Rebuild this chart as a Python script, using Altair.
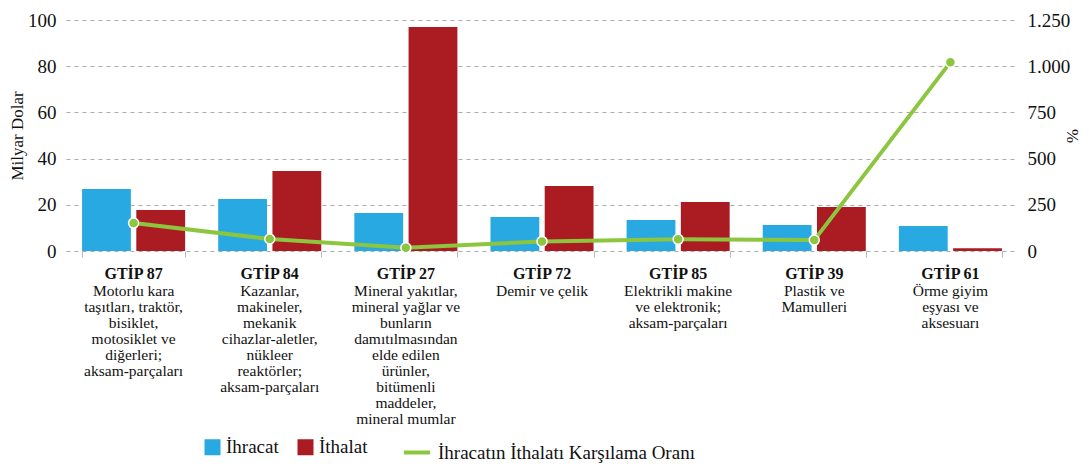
import altair as alt
import pandas as pd

codes = ["GTİP 87", "GTİP 84", "GTİP 27", "GTİP 72", "GTİP 85", "GTİP 39", "GTİP 61"]
descriptions = [
    "Motorlu kara\ntaşıtları, traktör,\nbisiklet,\nmotosiklet ve\ndiğerleri;\naksam-parçaları",
    "Kazanlar,\nmakineler,\nmekanik\ncihazlar-aletler,\nnükleer\nreaktörler;\naksam-parçaları",
    "Mineral yakıtlar,\nmineral yağlar ve\nbunların\ndamıtılmasından\nelde edilen\nürünler,\nbitümenli\nmaddeler,\nmineral mumlar",
    "Demir ve çelik",
    "Elektrikli makine\nve elektronik;\naksam-parçaları",
    "Plastik ve\nMamulleri",
    "Örme giyim\neşyası ve\naksesuarı",
]
exports = [26.8, 22.5, 16.5, 14.7, 13.4, 11.3, 10.8]
imports = [17.8, 34.6, 97.0, 28.1, 21.2, 19.0, 1.2]
ratio = [151, 65, 17, 52, 63, 59, 1022]

series = ["İhracat", "İthalat"]
line_label = "İhracatın İthalatı Karşılama Oranı"
FONT = "Liberation Serif"
INK = "#111111"

bar_rows = []
for c, e, i in zip(codes, exports, imports):
    bar_rows.append({"kod": c, "seri": "İhracat", "deger": e})
    bar_rows.append({"kod": c, "seri": "İthalat", "deger": i})
bars_df = pd.DataFrame(bar_rows)
cat_df = pd.DataFrame({"kod": codes, "aciklama": descriptions, "oran": ratio, "seri": line_label})

x_enc = alt.X("kod:N", sort=codes,
              scale=alt.Scale(paddingInner=0.243, paddingOuter=0.118),
              axis=alt.Axis(title=None, labels=False, domain=False, ticks=True,
                            tickBand="extent", tickColor="#bbbbbb", tickSize=6, grid=False))

bars = alt.Chart(bars_df).mark_bar().encode(
    x=x_enc,
    xOffset=alt.XOffset("seri:N", sort=series, scale=alt.Scale(paddingInner=0.1)),
    y=alt.Y("deger:Q", scale=alt.Scale(domain=[0, 100]),
            axis=alt.Axis(title="Milyar Dolar", values=[0, 20, 40, 60, 80, 100],
                          grid=True, gridDash=[4, 4], gridColor="#aaaaaa", ticks=False,
                          domain=False, labelPadding=10, titlePadding=1.5,
                          labelFont=FONT, titleFont=FONT, labelColor=INK, titleColor=INK,
                          labelFontSize=19, titleFontSize=17, titleFontWeight="normal")),
    color=alt.Color("seri:N", sort=series,
                    scale=alt.Scale(domain=series, range=["#29a9e1", "#ab1b22"]),
                    legend=alt.Legend(title=None, orient="none", legendX=137, legendY=417.5,
                                      direction="horizontal", symbolType="square",
                                      symbolSize=256, symbolStrokeWidth=0, labelFontSize=19,
                                      labelFont=FONT, labelColor=INK,
                                      columnPadding=17, labelOffset=4, padding=0)),
)

y2 = alt.Y("oran:Q", scale=alt.Scale(domain=[0, 1250]),
           axis=alt.Axis(title="%", orient="right", values=[0, 250, 500, 750, 1000, 1250],
                         labelExpr="replace(format(datum.value, ','), ',', '.')",
                         grid=False, domain=False, ticks=False, labelPadding=9,
                         titlePadding=-7,
                         labelFont=FONT, titleFont=FONT, labelColor=INK, titleColor=INK,
                         labelFontSize=19, titleFontSize=17, titleFontWeight="normal"))

line = alt.Chart(cat_df).mark_line(strokeWidth=4).encode(
    x=alt.X("kod:N", sort=codes),
    y=y2,
    stroke=alt.Stroke("seri:N", scale=alt.Scale(domain=[line_label], range=["#8cc63f"]),
                      legend=alt.Legend(title=None, orient="none", legendX=336, legendY=417.5,
                                        symbolType="stroke", symbolSize=676,
                                        symbolStrokeWidth=4, labelFontSize=19,
                                        labelFont=FONT, labelColor=INK,
                                        labelLimit=500, labelOffset=6, padding=0)),
)
points = alt.Chart(cat_df).mark_point(filled=True, size=100, color="#8cc63f",
                                      stroke="white", strokeWidth=1.5, opacity=1).encode(
    x=alt.X("kod:N", sort=codes),
    y=alt.Y("oran:Q", scale=alt.Scale(domain=[0, 1250]), axis=None),
)

code_text = alt.Chart(cat_df).mark_text(fontWeight="bold", fontSize=16, baseline="middle",
                                        font=FONT, color=INK).encode(
    x=alt.X("kod:N", sort=codes), y=alt.value(253.5), text="kod:N")
desc_text = alt.Chart(cat_df).mark_text(fontSize=15.5, baseline="top", lineBreak="\n",
                                        lineHeight=16.1, font=FONT, color=INK).encode(
    x=alt.X("kod:N", sort=codes), y=alt.value(263.5), text="aciklama:N")

chart = alt.layer(bars, code_text, desc_text, line, points).resolve_scale(
    y="independent", color="independent"
).properties(width=952, height=231, padding={"top": 3, "left": 0, "right": 0, "bottom": 0}
).configure_view(stroke=None)

chart.save("out.html", embed_options={"renderer": "svg", "actions": False})
